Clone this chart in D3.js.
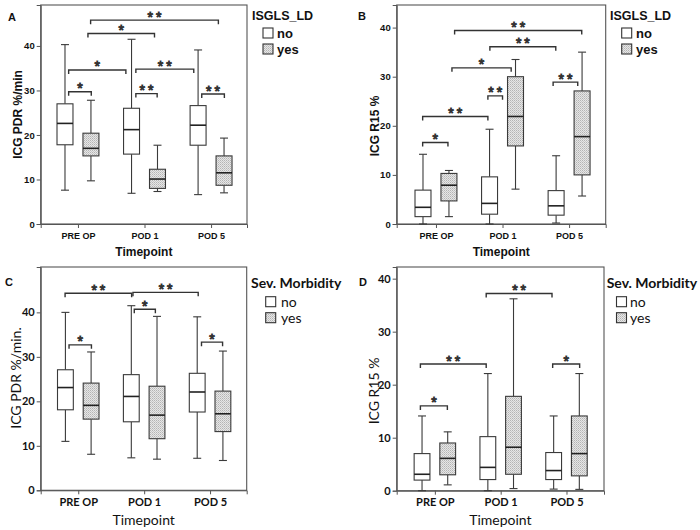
<!DOCTYPE html>
<html><head><meta charset="utf-8">
<script src="https://cdn.jsdelivr.net/npm/d3@7"></script>
<style>body{margin:0;background:#fff}svg{display:block}</style>
</head><body><svg id="chart" width="700" height="530"></svg>
<script>
// ---------- DATA ----------
const timepoints = ["PRE OP", "POD 1", "POD 5"];
const groups = ["no", "yes"];
const yTicks = [0, 10, 20, 30, 40];

// box statistics per timepoint: [min, q1, median, q3, max]
const pdrLdNo   = [[7.6,17.8,22.6,27.0,40.3],[6.9,15.7,21.2,26.0,41.5],[6.6,17.7,22.2,26.6,39.1]];
const pdrLdYes  = [[9.7,15.3,17.0,20.4,27.8],[7.3,8.0,10.1,12.3,17.7],[7.0,8.7,11.5,15.3,19.3]];
const r15LdNo   = [[0,1.5,3.4,6.9,14.2],[0,2.0,4.2,9.6,19.3],[0.2,1.8,3.7,6.8,13.9]];
const r15LdYes  = [[1.5,4.7,7.9,10.3,10.9],[7.1,15.9,21.9,30.0,33.5],[5.7,10.0,17.8,27.1,35.0]];
const pdrMorbNo = [[11.0,18.1,23.1,27.1,40.0],[7.3,15.4,21.1,26.0,41.5],[7.2,17.6,22.1,26.3,39.0]];
const pdrMorbYes= [[8.1,16.0,19.1,24.1,31.1],[7.0,11.6,16.9,23.4,39.1],[6.7,13.2,17.2,22.3,31.3]];
const r15MorbNo = [[0,2.0,3.1,7.0,14.1],[0,2.1,4.4,10.2,22.1],[0.3,2.1,3.8,7.2,14.1]];
const r15MorbYes= [[1.1,3.0,6.1,9.0,11.1],[0.4,3.1,8.2,17.8,36.2],[0.25,2.8,7.0,14.1,22.1]];

// significance brackets: [from (timepoint units), to (timepoint units), level (y value), label]
const sigA = [[-0.14,0.20,29.7,"*"],[-0.14,0.72,34.6,"*"],[0.87,1.19,29.3,"**"],[0.87,1.74,34.8,"**"],
              [1.86,2.20,29.2,"**"],[0.15,1.15,42.8,"*"],[0.19,2.11,45.8,"**"]];
const sigB = [[-0.20,0.18,16.6,"*"],[-0.20,0.78,21.9,"**"],[0.78,1.00,26.1,"**"],[0.24,1.13,31.8,"*"],
              [0.81,1.80,36.1,"**"],[0.28,2.19,39.4,"**"],[1.76,2.13,28.9,"**"]];
const sigC = [[-0.20,0.81,44.3,"**"],[0.83,1.82,44.5,"**"],[0.85,1.17,40.7,"*"],[-0.14,0.20,32.7,"*"],[1.87,2.19,33.3,"*"]];
const sigD = [[-0.22,0.19,16.0,"*"],[-0.22,0.78,23.9,"**"],[0.78,1.78,37.2,"**"],[1.79,2.20,23.9,"*"]];

// ---------- LAYOUT ----------
const ARIAL = "'Liberation Sans', Arial, sans-serif";
const CALI = "Lato, 'Open Sans', sans-serif";
const panels = [
  {letter:"A", no:pdrLdNo, yes:pdrLdYes, sig:sigA, yMax:49.2, x0:40.7, x1:247, y0:5, y1:224, padL:0.56, padR:0.54,
   yTitle:"ICG PDR %/min", legTitle:"ISGLS_LD", font:ARIAL, calibri:false,
   letterX:8, letterY:17, legX:252, legY:16, boxX:263, boxY:28, txtX:277, yTitleX:18, yTitleY:114.5, xTitleY:252},
  {letter:"B", no:r15LdNo, yes:r15LdYes, sig:sigB, yMax:44.6, x0:396.7, x1:605.7, y0:5, y1:224, padL:0.59, padR:0.55,
   yTitle:"ICG R15 %", legTitle:"ISGLS_LD", font:ARIAL, calibri:false,
   letterX:358, letterY:16, legX:610, legY:16, boxX:621.7, boxY:28, txtX:636, yTitleX:375, yTitleY:126, xTitleY:252},
  {letter:"C", no:pdrMorbNo, yes:pdrMorbYes, sig:sigC, yMax:50.2, x0:40.7, x1:246.7, y0:267, y1:490.3, padL:0.57, padR:0.556,
   yTitle:"ICG PDR %/min.", legTitle:"Sev. Morbidity", font:CALI, calibri:true,
   letterX:5, letterY:282, legX:251, legY:282, boxX:265.7, boxY:296.7, txtX:281, yTitleX:15, yTitleY:378, xTitleY:519},
  {letter:"D", no:r15MorbNo, yes:r15MorbYes, sig:sigD, yMax:42.2, x0:396.7, x1:604, y0:267, y1:490.7, padL:0.58, padR:0.57,
   yTitle:"ICG R15 %", legTitle:"Sev. Morbidity", font:CALI, calibri:true,
   letterX:359, letterY:282, legX:606.7, legY:282, boxX:616.5, boxY:296.7, txtX:630, yTitleX:373, yTitleY:391, xTitleY:519}
];

const svg = d3.select("#chart");
const defs = svg.append("defs");
const pat = defs.append("pattern").attr("id","dots").attr("width",2).attr("height",2).attr("patternUnits","userSpaceOnUse");
pat.append("rect").attr("width",2).attr("height",2).attr("fill","#e6e6e6");
pat.append("rect").attr("width",1).attr("height",1).attr("fill","#b4b4b4");
pat.append("rect").attr("x",1).attr("y",1).attr("width",1).attr("height",1).attr("fill","#c8c8c8");

const INK = "#3a3a3a";
const OFF = 0.195, HALF = 0.12, CAP = 4;

panels.forEach(p => {
  const g = svg.append("g");
  const y = d3.scaleLinear().domain([0, p.yMax]).range([p.y1, p.y0]);
  const x = d3.scaleLinear().domain([-p.padL, 2 + p.padR]).range([p.x0, p.x1]);
  const tickFont = p.calibri ? 11 : 9;

  // frame
  g.append("rect").attr("x", p.x0).attr("y", p.y0).attr("width", p.x1 - p.x0).attr("height", p.y1 - p.y0)
    .attr("fill","none").attr("stroke","#555").attr("stroke-width",1.1);

  // axes
  const ya = g.append("g").attr("transform",`translate(${p.x0},0)`)
    .call(d3.axisLeft(y).tickValues(yTicks).tickSize(4).tickPadding(2));
  const xa = g.append("g").attr("transform",`translate(0,${p.y1})`)
    .call(d3.axisBottom(x).tickValues([0,1,2]).tickFormat(i => timepoints[i]).tickSize(4).tickPadding(p.calibri ? 4 : 5));
  [ya, xa].forEach(a => {
    a.select(".domain").attr("stroke","#555");
    a.selectAll(".tick line").attr("stroke","#555");
    a.selectAll("text").attr("fill","#111").attr("font-family", p.font).attr("font-weight","bold").attr("font-size", tickFont);
  });
  ya.selectAll("text").attr("font-size", p.calibri ? 11 : 9.5);

  // boxes
  [p.no, p.yes].forEach((series, si) => {
    const off = si === 0 ? -OFF : OFF;
    series.forEach((s, ti) => {
      const cx = x(ti + off), xl = x(ti + off - HALF), xr = x(ti + off + HALF);
      const [mn, q1, md, q3, mx] = s;
      const bg = g.append("g");
      bg.append("line").attr("x1",cx).attr("x2",cx).attr("y1",y(mx)).attr("y2",y(q3)).attr("stroke",INK).attr("stroke-width",1.1);
      bg.append("line").attr("x1",cx).attr("x2",cx).attr("y1",y(q1)).attr("y2",y(mn)).attr("stroke",INK).attr("stroke-width",1.1);
      [mn, mx].forEach(v => bg.append("line").attr("x1",cx-CAP).attr("x2",cx+CAP).attr("y1",y(v)).attr("y2",y(v))
        .attr("stroke",INK).attr("stroke-width",1.1));
      bg.append("rect").attr("x",xl).attr("y",y(q3)).attr("width",xr-xl).attr("height",y(q1)-y(q3))
        .attr("fill", si === 0 ? "#fff" : "url(#dots)").attr("stroke",INK).attr("stroke-width",1.1);
      bg.append("line").attr("x1",xl).attr("x2",xr).attr("y1",y(md)).attr("y2",y(md)).attr("stroke","#222").attr("stroke-width",1.6);
    });
  });

  // significance brackets
  p.sig.forEach(([a, b, lv, lab]) => {
    const xa0 = x(a), xb = x(b), yy = y(lv);
    g.append("path").attr("d",`M${xa0},${yy+4}V${yy}H${xb}V${yy+4}`).attr("fill","none").attr("stroke","#333").attr("stroke-width",1.4);
    const t = g.append("text").attr("y",yy+1.5).attr("text-anchor","middle")
      .attr("font-family",ARIAL).attr("font-size",14).attr("fill","#333")
      .attr("stroke","#333").attr("stroke-width",0.9);
    if (lab === "**") t.attr("x",(xa0+xb)/2 + 1.5).attr("letter-spacing",3).text("**");
    else t.attr("x",(xa0+xb)/2).text("*");
  });

  // titles
  const titleW = p.calibri ? "normal" : "bold";
  const titleS = p.calibri ? 14 : 12;
  g.append("text").attr("transform",`translate(${p.yTitleX},${p.yTitleY}) rotate(-90)`)
    .attr("text-anchor","middle").attr("dominant-baseline","central").attr("font-family",p.font)
    .attr("font-weight",titleW).attr("font-size",titleS).attr("fill","#111").text(p.yTitle);
  g.append("text").attr("x",(p.x0+p.x1)/2).attr("y",p.xTitleY).attr("dominant-baseline","central").attr("text-anchor","middle")
    .attr("font-family",p.font).attr("font-weight",titleW).attr("font-size",titleS).attr("fill","#111").text("Timepoint");
  g.append("text").attr("x",p.letterX).attr("y",p.letterY).attr("dominant-baseline","central")
    .attr("font-family",ARIAL).attr("font-weight","bold").attr("font-size",11).attr("fill","#111").text(p.letter);

  // legend
  g.append("text").attr("x",p.legX).attr("y",p.legY).attr("dominant-baseline","central")
    .attr("font-family",p.font).attr("font-weight","bold").attr("font-size",p.calibri?14:12.5).attr("fill","#111").text(p.legTitle);
  groups.forEach((gr, i) => {
    const by = p.boxY + i * 16;
    g.append("rect").attr("x",p.boxX).attr("y",by).attr("width",10).attr("height",10)
      .attr("fill", i === 0 ? "#fff" : "url(#dots)").attr("stroke","#333").attr("stroke-width",1.1);
    g.append("text").attr("x",p.txtX).attr("y",by+5).attr("dominant-baseline","central")
      .attr("font-family",p.font).attr("font-weight",p.calibri?"normal":"bold").attr("font-size",p.calibri?14:13)
      .attr("fill","#111").text(gr);
  });
});
</script></body></html>
